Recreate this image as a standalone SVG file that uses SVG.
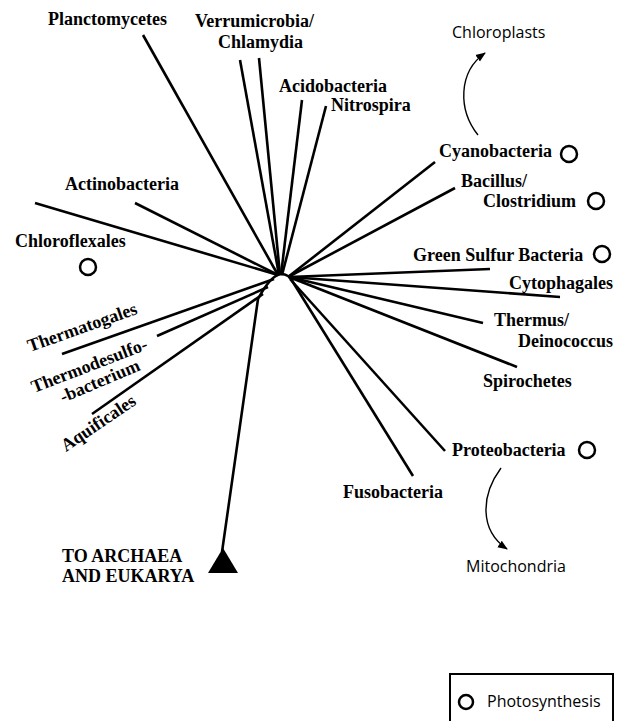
<svg xmlns="http://www.w3.org/2000/svg" width="619" height="721" viewBox="0 0 619 721">
<style>
.b{stroke:#000;stroke-width:2.6;fill:none;stroke-linecap:butt}
.lbl{font-family:"Liberation Serif","Times New Roman",serif;font-weight:bold;font-size:18px;fill:#000}
.sans{font-family:"Open Sans","Noto Sans",sans-serif;font-size:16px;fill:#000}
.ph{fill:none;stroke:#000;stroke-width:2.5}
.arr{stroke:#000;stroke-width:1.4;fill:none}
</style>
<defs>
<marker id="ah" viewBox="0 0 10 10" refX="9" refY="5" markerWidth="10" markerHeight="10" markerUnits="userSpaceOnUse" orient="auto">
<path d="M0,1 L10,5 L0,9 Z" fill="#000"/>
</marker>
</defs>
<rect width="619" height="721" fill="#fff"/>
<g id="connectors">
<path class="b" d="M143,35 L278,275"/>
<path class="b" d="M240,60 L279,275"/>
<path class="b" d="M259,58 L280,275"/>
<path class="b" d="M302,100 L281,275"/>
<path class="b" d="M326,106 L282,275"/>
<path class="b" d="M135,203 L278,275"/>
<path class="b" d="M35,203 L278,275"/>
<path class="b" d="M62,354 L274,279"/>
<path class="b" d="M157,336 L268,287"/>
<path class="b" d="M92,414 L263,294"/>
<path class="b" d="M222,552 L258,299 C266,284 273,275 281,274 C287,274 291,278 293,282"/>
<path class="b" d="M435,162 L288,277"/>
<path class="b" d="M455,188 L288,277"/>
<path class="b" d="M490,269 L289,277"/>
<path class="b" d="M560,297 L289,277"/>
<path class="b" d="M483,323 L289,277"/>
<path class="b" d="M517,367 L289,277"/>
<path class="b" d="M445,451 L290,279"/>
<path class="b" d="M413,476 L291,279"/>
<path class="arr" d="M478,135 C458,110 458,72 485,53" marker-end="url(#ah)"/>
<path class="arr" d="M501,468 C481,495 479,530 507,549" marker-end="url(#ah)"/>
</g>
<g id="planctomycetes"><text class="lbl" x="48" y="25">Planctomycetes</text></g>
<g id="verrumicrobia"><text class="lbl" x="195" y="27">Verrumicrobia/</text><text class="lbl" x="218" y="48">Chlamydia</text></g>
<g id="acidobacteria"><text class="lbl" x="279" y="92">Acidobacteria</text></g>
<g id="nitrospira"><text class="lbl" x="331" y="111">Nitrospira</text></g>
<g id="actinobacteria"><text class="lbl" x="65" y="190">Actinobacteria</text></g>
<g id="chloroflexales"><text class="lbl" x="15" y="247">Chloroflexales</text><circle class="ph" cx="88" cy="267" r="8"/></g>
<g id="thermatogales"><text class="lbl" transform="translate(30,352) rotate(-19.5)">Thermatogales</text></g>
<g id="thermodesulfobacterium"><text class="lbl" transform="translate(34,393) rotate(-21)">Thermodesulfo-</text><text class="lbl" transform="translate(63,403) rotate(-23)">-bacterium</text></g>
<g id="aquificales"><text class="lbl" transform="translate(66,452) rotate(-34)">Aquificales</text></g>
<g id="cyanobacteria"><text class="lbl" x="439" y="157">Cyanobacteria</text><circle class="ph" cx="569" cy="154" r="8"/></g>
<g id="chloroplasts"><text class="sans" x="452" y="38">Chloroplasts</text></g>
<g id="bacillus"><text class="lbl" x="461" y="187">Bacillus/</text><text class="lbl" x="483" y="207">Clostridium</text><circle class="ph" cx="596" cy="201" r="8"/></g>
<g id="greensulfur"><text class="lbl" x="413" y="261">Green Sulfur Bacteria</text><circle class="ph" cx="602" cy="254" r="8"/></g>
<g id="cytophagales"><text class="lbl" x="509" y="289">Cytophagales</text></g>
<g id="thermus"><text class="lbl" x="494" y="326">Thermus/</text><text class="lbl" x="518" y="347">Deinococcus</text></g>
<g id="spirochetes"><text class="lbl" x="483" y="387">Spirochetes</text></g>
<g id="proteobacteria"><text class="lbl" x="452" y="456">Proteobacteria</text><circle class="ph" cx="587" cy="450" r="8"/></g>
<g id="fusobacteria"><text class="lbl" x="343" y="498">Fusobacteria</text></g>
<g id="mitochondria"><text class="sans" x="466" y="572">Mitochondria</text></g>
<g id="root"><path d="M223,548 L238,573 L208,573 Z" fill="#000"/><text class="lbl" x="62" y="562">TO ARCHAEA</text><text class="lbl" x="62" y="582">AND EUKARYA</text></g>
<g id="legend"><rect x="450" y="674" width="163" height="60" fill="none" stroke="#000" stroke-width="2"/><circle class="ph" cx="466" cy="702" r="7"/><text class="sans" x="487" y="707">Photosynthesis</text></g>
</svg>
